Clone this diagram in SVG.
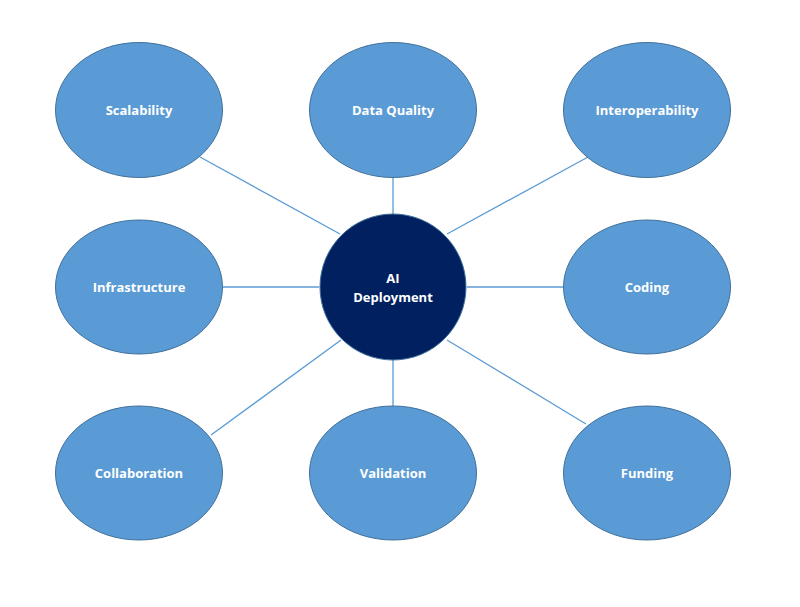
<svg xmlns="http://www.w3.org/2000/svg" width="800" height="607" viewBox="0 0 800 607">
<style>
.n{fill:#5B9BD5;stroke:#41719C;stroke-width:1}
.c{fill:#002060;stroke:#41719C;stroke-width:1}
.t{font-family:"Open Sans","Liberation Sans",sans-serif;font-weight:bold;font-size:13px;fill:#fff;text-anchor:middle}
.e line{stroke:#5B9BD5;stroke-width:1.3}
</style>
<rect width="800" height="607" fill="#fff"/>
<g id="connectors" class="e">
<line x1="200" y1="157" x2="340" y2="234"/>
<line x1="393" y1="178" x2="393" y2="214"/>
<line x1="588" y1="157" x2="447" y2="234"/>
<line x1="222" y1="287" x2="319" y2="287"/>
<line x1="467" y1="287" x2="563" y2="287"/>
<line x1="211" y1="435" x2="341" y2="340"/>
<line x1="393" y1="360" x2="393" y2="406"/>
<line x1="586" y1="424" x2="447" y2="340"/>
</g>
<g id="scalability"><ellipse class="n" cx="139" cy="110" rx="83.5" ry="67.5"/><text class="t" x="139" y="115">Scalability</text></g>
<g id="data-quality"><ellipse class="n" cx="393" cy="110" rx="83.5" ry="67.5"/><text class="t" x="393" y="115">Data Quality</text></g>
<g id="interoperability"><ellipse class="n" cx="647" cy="110" rx="83.5" ry="67.5"/><text class="t" x="647" y="115">Interoperability</text></g>
<g id="infrastructure"><ellipse class="n" cx="139" cy="287" rx="83.5" ry="67"/><text class="t" x="139" y="292">Infrastructure</text></g>
<g id="coding"><ellipse class="n" cx="647" cy="287" rx="83.5" ry="67"/><text class="t" x="647" y="292">Coding</text></g>
<g id="collaboration"><ellipse class="n" cx="139" cy="473" rx="83.5" ry="67"/><text class="t" x="139" y="478">Collaboration</text></g>
<g id="validation"><ellipse class="n" cx="393" cy="473" rx="83.5" ry="67"/><text class="t" x="393" y="478">Validation</text></g>
<g id="funding"><ellipse class="n" cx="647" cy="473" rx="83.5" ry="67"/><text class="t" x="647" y="478">Funding</text></g>
<g id="ai-deployment"><circle class="c" cx="393" cy="287" r="73"/><text class="t" x="393" y="283">AI</text><text class="t" x="393" y="302">Deployment</text></g>
</svg>
